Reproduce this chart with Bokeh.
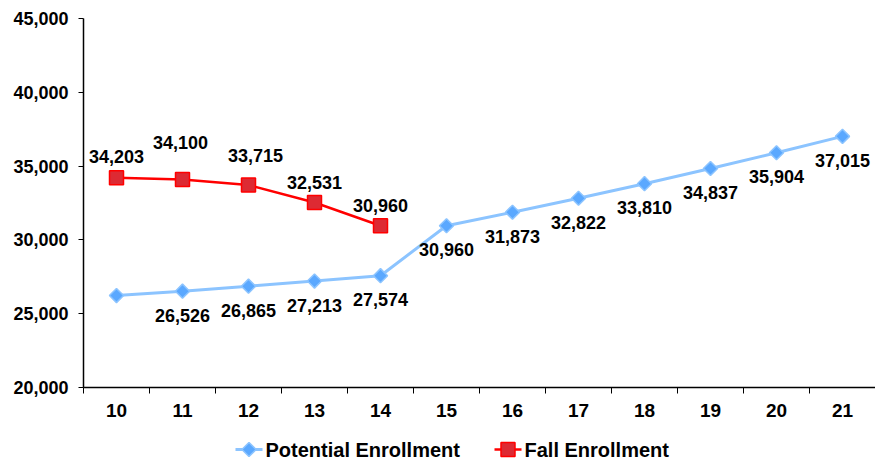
import math
from bokeh.plotting import figure
from bokeh.layouts import column
from bokeh.models import (ColumnDataSource, FixedTicker, NumeralTickFormatter,
                          Range1d)
from bokeh.core.properties import value
from bokeh.embed import file_html
from bokeh.resources import INLINE

years = [10, 11, 12, 13, 14, 15, 16, 17, 18, 19, 20, 21]
potential = [26230, 26526, 26865, 27213, 27574, 30960, 31873, 32822, 33810, 34837, 35904, 37015]
fall_years = [10, 11, 12, 13, 14]
fall = [34203, 34100, 33715, 32531, 30960]
y_ticks = [20000, 25000, 30000, 35000, 40000, 45000]
series_names = ["Potential Enrollment", "Fall Enrollment"]

# label placement (screen pixels), style only
red_dx = [0, -2, 7, 0, 0]
red_dy = [-21, -37, -30, -20, -20]

FONT = value("Liberation Sans")
BLUE_LINE = "#8CC4FF"
BLUE_MARK = "#5AA8FF"
RED_LINE = "#FF0000"
RED_FILL = "#DD2A33"

W = 875
H_MAIN = 424
H_LEG = 37
LEFT = 83

p = figure(width=W, height=H_MAIN, output_backend="svg", toolbar_location=None,
           x_range=Range1d(9.5, 21.5), y_range=Range1d(20000, 45000),
           min_border_left=LEFT, min_border_right=0, min_border_top=18,
           min_border_bottom=H_MAIN - 387)
p.outline_line_color = None
p.grid.visible = False
p.background_fill_color = "white"
p.border_fill_color = "white"

pot_src = ColumnDataSource(dict(x=years, y=potential))
lab_src = ColumnDataSource(dict(x=years[1:], y=potential[1:],
                                lab=[f"{v:,}" for v in potential[1:]]))
fall_src = ColumnDataSource(dict(x=fall_years, y=fall,
                                 lab=[f"{v:,}" for v in fall],
                                 dx=red_dx, dy=red_dy))

p.line("x", "y", source=pot_src, line_color=BLUE_LINE, line_width=3)
p.scatter("x", "y", source=pot_src, marker="square", size=10, angle=math.pi / 4,
          fill_color=BLUE_MARK, line_color=BLUE_LINE, line_width=1.5)
p.line("x", "y", source=fall_src, line_color=RED_LINE, line_width=2.5)
p.scatter("x", "y", source=fall_src, marker="square", size=14,
          fill_color=RED_FILL, line_color=RED_LINE, line_width=1.5)

p.text("x", "y", text="lab", source=lab_src, y_offset=24,
       text_align="center", text_baseline="middle", text_font=FONT,
       text_font_size="18px", text_font_style="bold", text_color="black")
p.text("x", "y", text="lab", source=fall_src, x_offset="dx", y_offset="dy",
       text_align="center", text_baseline="middle", text_font=FONT,
       text_font_size="18px", text_font_style="bold", text_color="black")

# x axis
xa = p.xaxis[0]
xa.ticker = FixedTicker(ticks=years, minor_ticks=[y - 0.5 for y in years] + [21.5])
xa.major_tick_line_color = None
xa.minor_tick_out = 6
xa.minor_tick_in = 0
xa.minor_tick_line_color = "black"
xa.axis_line_color = "black"
xa.axis_line_width = 1.5
xa.major_label_standoff = 10
xa.major_label_text_font = "Liberation Sans"
xa.major_label_text_font_size = "19px"
xa.major_label_text_font_style = "bold"
xa.major_label_text_color = "black"

ya = p.yaxis[0]
ya.ticker = FixedTicker(ticks=y_ticks, minor_ticks=[])
ya.formatter = NumeralTickFormatter(format="0,0")
ya.major_tick_out = 5
ya.major_tick_in = 0
ya.axis_line_width = 1.5
ya.major_label_standoff = 10
ya.major_label_text_font = "Liberation Sans"
ya.major_label_text_font_size = "18px"
ya.major_label_text_font_style = "bold"
ya.major_label_text_color = "black"

# legend strip below the chart (its frame lines up with the chart frame,
# so its x range is given in page pixels from LEFT to W)
lg = figure(width=W, height=H_LEG, output_backend="svg", toolbar_location=None,
            x_range=Range1d(LEFT, W), y_range=Range1d(0, H_LEG),
            min_border_left=LEFT, min_border_right=0, min_border_top=0,
            min_border_bottom=0, x_axis_type=None, y_axis_type=None)
lg.outline_line_color = None
lg.grid.visible = False
key_x0 = [235, 494]
key_x1 = [262, 521]
key_y = 12
lg.segment(x0=key_x0[0], y0=key_y, x1=key_x1[0], y1=key_y, line_color=BLUE_LINE, line_width=3)
lg.scatter(x=[(key_x0[0] + key_x1[0]) / 2], y=[key_y], marker="square", size=10,
           angle=math.pi / 4, fill_color=BLUE_MARK, line_color=BLUE_LINE, line_width=1.5)
lg.segment(x0=key_x0[1], y0=key_y, x1=key_x1[1], y1=key_y, line_color=RED_LINE, line_width=2.5)
lg.scatter(x=[(key_x0[1] + key_x1[1]) / 2], y=[key_y], marker="square", size=14,
           fill_color=RED_FILL, line_color=RED_LINE, line_width=1.5)
lg.text(x=[key_x1[0] + 3, key_x1[1] + 3], y=[key_y, key_y], text=series_names,
        text_align="left", text_baseline="middle", text_font=FONT,
        text_font_size="20px", text_font_style="bold", text_color="black")

layout = column(p, lg, spacing=0)
open("out.html", "w").write(file_html(layout, INLINE))
